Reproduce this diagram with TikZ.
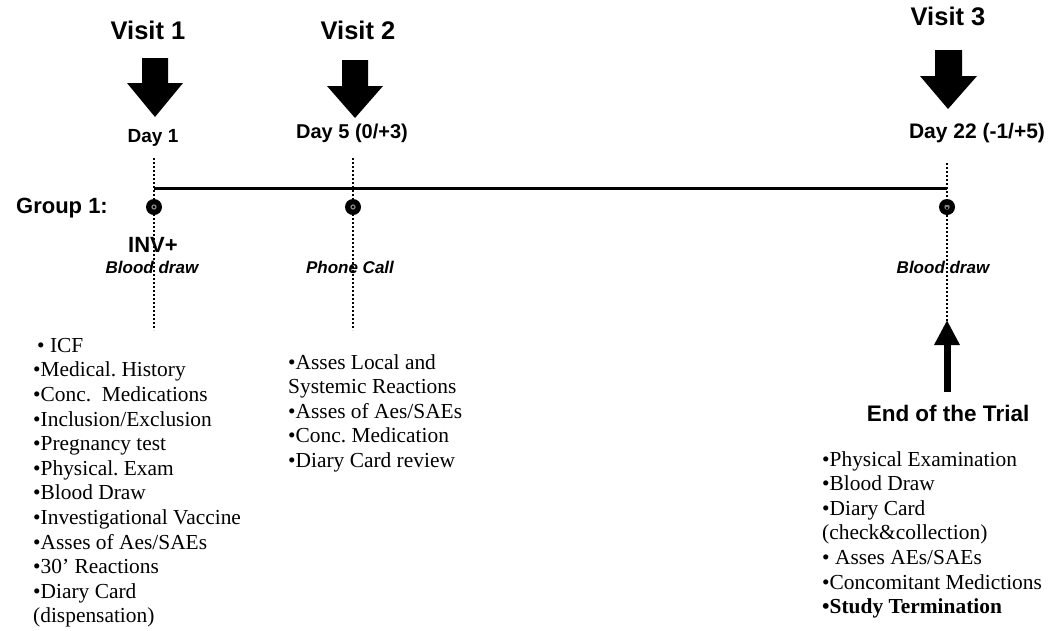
\documentclass[tikz,border=0pt]{standalone}
\usepackage{fontspec}
\setmainfont{Liberation Serif}
\newfontfamily\arialfont{Liberation Sans}
\usetikzlibrary{arrows.meta}
\frenchspacing
\begin{document}
\begin{tikzpicture}[x=1pt,y=-1pt,
  visit/.style={font=\arialfont\bfseries\fontsize{25.5}{30}\selectfont, inner sep=0},
  daylbl/.style={font=\arialfont\bfseries\fontsize{19}{22}\selectfont, inner sep=0},
  grplbl/.style={font=\arialfont\bfseries\fontsize{22}{26}\selectfont, inner sep=0},
  actlbl/.style={font=\arialfont\bfseries\itshape\fontsize{17}{20}\selectfont, inner sep=0},
  listbox/.style={font=\frenchspacing\fontsize{21.4}{24.6}\selectfont, align=left, anchor=north west, inner sep=0},
  bigarrow/.style={fill=black},
  dotline/.style={line width=2.2pt, dash pattern=on 2pt off 2pt},
  timeline/.style={line width=3pt},
]
\useasboundingbox (0,0) rectangle (1049,630);

% visit titles
\node[visit] (v1) at (148,30) {Visit 1};
\node[visit] (v2) at (358,30) {Visit 2};
\node[visit] (v3) at (948,16) {Visit 3};

% big down arrows
\fill[bigarrow] (142,58) -- (168,58) -- (168,83) -- (183,83) -- (155,117) -- (127,83) -- (142,83) -- cycle;
\fill[bigarrow] (342,60) -- (368,60) -- (368,86) -- (383,86) -- (355,118) -- (327,86) -- (342,86) -- cycle;
\fill[bigarrow] (935,50) -- (962,50) -- (962,76) -- (977,76) -- (948,109) -- (920,76) -- (935,76) -- cycle;

% day labels
\node[daylbl] (d1) at (153,138) {Day 1};
\node[daylbl, font=\arialfont\bfseries\fontsize{20}{22}\selectfont] (d2) at (352,133) {Day 5 (0/+3)};
\node[daylbl, font=\arialfont\bfseries\fontsize{21}{22}\selectfont] (d3) at (977,133) {Day 22 (-1/+5)};

% group label and milestones
\node[grplbl] (g1) at (62,208) {Group 1:};
\coordinate (m1) at (154,207);
\coordinate (m2) at (353,207);
\coordinate (m3) at (947,207);
\foreach \m in {m1,m2,m3}{
  \fill[black] (\m) circle (8pt);
  \fill[gray] (\m) circle (2.7pt);
}

% timeline
\coordinate (ls) at (154,188);
\coordinate (le) at (947,188);
\draw[timeline] (ls) -- (le);

% activity labels
\node[grplbl] (inv) at (153,245) {INV+};
\node[actlbl] (a1) at (152,267) {Blood draw};
\node[actlbl] (a2) at (350,267) {Phone Call};
\node[actlbl] (a3) at (943,267) {Blood draw};

% dotted verticals
\coordinate (t1) at (154,158); \coordinate (b1) at (154,330);
\coordinate (t2) at (353,158); \coordinate (b2) at (353,330);
\coordinate (t3) at (947,163); \coordinate (b3) at (947,322);
\draw[dotline] (t1) -- (b1);
\draw[dotline] (t2) -- (b2);
\draw[dotline] (t3) -- (b3);

% end of trial
\node[grplbl, font=\arialfont\bfseries\fontsize{22.5}{26}\selectfont] (eot) at (948,413) {End of the Trial};
\coordinate (eb) at (947,392);
\coordinate (et) at (947,320);
\draw[line width=7pt, -{Triangle[width=24pt,length=25pt]}] (eb) -- (et);

% lists
\node[listbox] (l1) at (33,338) {\hspace{4pt}• ICF\\
•Medical. History\\
•Conc.~ Medications\\
•Inclusion/Exclusion\\
•Pregnancy test\\
•Physical. Exam\\
•Blood Draw\\
•Investigational Vaccine\\
•Asses of Aes/SAEs\\
•30’ Reactions\\
•Diary Card\\
(dispensation)};

\node[listbox] (l2) at (288,354) {•Asses Local and\\
Systemic Reactions\\
•Asses of Aes/SAEs\\
•Conc. Medication\\
•Diary Card review};

\node[listbox] (l3) at (822,451) {•Physical Examination\\
•Blood Draw\\
•Diary Card\\
(check\&collection)\\
• Asses AEs/SAEs\\
•Concomitant Medictions\\
\textbf{•Study Termination}};
\end{tikzpicture}
\end{document}
